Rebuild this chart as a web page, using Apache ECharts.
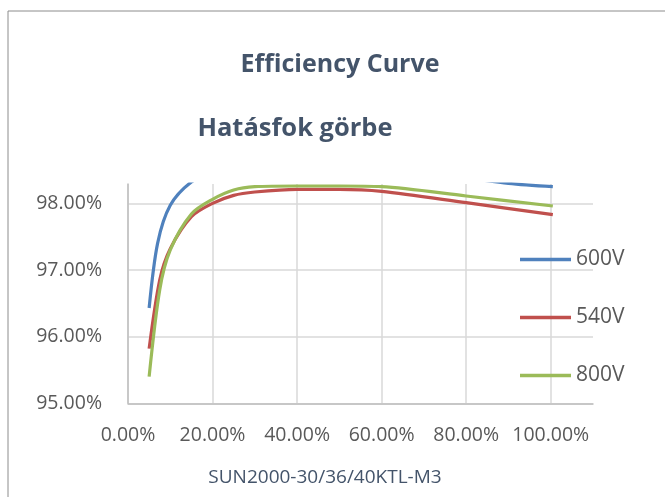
<!DOCTYPE html>
<html>
<head>
<meta charset="utf-8">
<script src="https://cdn.jsdelivr.net/npm/echarts@6/dist/echarts.min.js"></script>
<style>
    html,body{margin:0;padding:0;background:#fff;}
    #box{width:665px;height:497px;}
</style>
</head>
<body>
<div id="box"></div>
<script>
// load (%) / efficiency (%)
const seriesNames = ['600V','540V','800V'];
const v600 = [[5,96.43],[7,97.4],[10,97.97],[15,98.32],[20,98.45],[30,98.52],[50,98.55],[75,98.42],[90,98.30],[100.5,98.25]];
const v540 = [[5,95.82],[7.5,96.85],[10,97.32],[15,97.8],[20,98.0],[25,98.12],[30,98.17],[40,98.21],[50,98.21],[60,98.18],[80,98.01],[100.5,97.83]];
const v800 = [[5,95.40],[7.5,96.7],[10,97.3],[15,97.84],[20,98.06],[25,98.2],[30,98.25],[40,98.26],[50,98.26],[60,98.25],[80,98.11],[100.5,97.96]];
const colors = ['#4F81BD','#C0504D','#9BBB59'];

const FONT = '"Open Sans", "Noto Sans", sans-serif';
const pct = v => v.toFixed(2) + '%';

const makeLine = (name,data,i) => ({
    name:name,
    type:'line',
    data:data,
    smooth:0.3,
    showSymbol:false,
    clip:true,
    lineStyle:{width:3.2,color:colors[i]},
    itemStyle:{color:colors[i]}
});

let chart = echarts.init(document.getElementById('box'));
chart.setOption({
    animation:false,
    textStyle:{fontFamily:FONT},
    grid:{left:128,top:184,width:465,height:219.3},
    legend:{
        orient:'vertical',
        left:520,
        top:249,
        padding:0,
        itemWidth:51,
        itemHeight:3.5,
        itemGap:37,
        icon:'rect',
        textStyle:{fontSize:21,lineHeight:20,color:'#595959',fontFamily:FONT},
        data:seriesNames
    },
    xAxis:{
        type:'value',
        min:0,
        max:110,
        interval:20,
        axisLine:{show:true,lineStyle:{color:'#BFBFBF',width:1.5}},
        axisTick:{show:false},
        axisLabel:{
            fontSize:19.5,
            color:'#595959',
            margin:22,
            showMaxLabel:false,
            formatter:v => (v % 20 === 0 ? pct(v) : '')
        },
        splitLine:{show:true,showMaxLine:false,lineStyle:{color:'#D9D9D9',width:1.5}}
    },
    yAxis:{
        type:'value',
        min:95,
        max:98.29,
        interval:1,
        axisLine:{show:true,lineStyle:{color:'#BFBFBF',width:1.5}},
        axisTick:{show:false},
        axisLabel:{
            fontSize:19.5,
            color:'#595959',
            margin:26,
            showMaxLabel:false,
            formatter:v => (Number.isInteger(v) ? pct(v) : '')
        },
        splitLine:{show:true,showMaxLine:false,lineStyle:{color:'#D9D9D9',width:1.5}}
    },
    graphic:[
        {type:'rect',shape:{x:8,y:11,width:700,height:600},style:{fill:null,stroke:'#8C8C8C',lineWidth:1},silent:true,z:-10},
        {type:'text',x:340,y:65,style:{text:'Efficiency Curve',font:'bold 25px ' + FONT,fill:'#44546A',align:'center',verticalAlign:'middle'}},
        {type:'text',x:295,y:129,style:{text:'Hatásfok görbe',font:'bold 25.5px ' + FONT,fill:'#44546A',align:'center',verticalAlign:'middle'}},
        {type:'text',x:325,y:478,style:{text:'SUN2000-30/36/40KTL-M3',font:'19px ' + FONT,fill:'#44546A',align:'center',verticalAlign:'middle'}}
    ],
    series:[
        makeLine(seriesNames[0],v600,0),
        makeLine(seriesNames[1],v540,1),
        makeLine(seriesNames[2],v800,2)
    ]
});
</script>
</body>
</html>
